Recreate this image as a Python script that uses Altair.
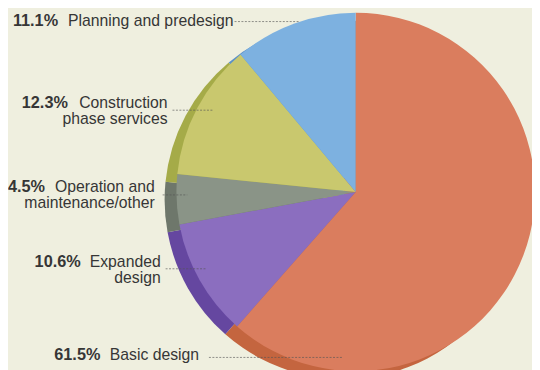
import altair as alt
import pandas as pd

# ---- data ----
categories = ["Basic design", "Expanded design", "Operation and maintenance/other",
              "Construction phase services", "Planning and predesign"]
shares = [61.5, 10.6, 4.5, 12.3, 11.1]
pct_labels = ["61.5%", "10.6%", "4.5%", "12.3%", "11.1%"]
label_line1 = ["Basic design", "Expanded", "Operation and", "Construction", "Planning and predesign"]
label_line2 = ["", "design", "maintenance/other", "phase services", ""]

# ---- styles ----
face_colors = ["#da7d5e", "#8b6ebf", "#8a9487", "#c9c86e", "#7db1e0"]
rim_colors = ["#c4653f", "#6547a0", "#6e776b", "#a5ab48", "#5b91c9"]
bg = "#efefdf"
txt = "#363636"

# ---- layout (chart pixel coords; page coords minus 8px margin) ----
OFF = 8
cx, cy, R = 361 - OFF, 192 - OFF, 182
rim_dx, rim_dy = -12, 8
pct_x = [55, 35, 8, 22, 13]
label_right = [202, 163, 157, 170, 237]
base1 = [363, 268, 192, 107, 24]
line_gap = 16
lead_x1 = [212, 168, 165, 175, 238]
lead_x2 = [347, 210, 190, 217, 303]
lead_y = [360, 270, 195, 109, 19]

pie_df = pd.DataFrame({"cat": categories, "share": shares, "idx": list(range(len(categories)))})

color_face = alt.Color("cat:N", scale=alt.Scale(domain=categories, range=face_colors), legend=None)
color_rim = alt.Color("cat:N", scale=alt.Scale(domain=categories, range=rim_colors), legend=None)

rim = alt.Chart(pie_df).mark_arc(radius=R, stroke=None).encode(
    theta=alt.Theta("share:Q", stack=True),
    order=alt.Order("idx:O"),
    color=color_rim,
    x=alt.value(cx + rim_dx), y=alt.value(cy + rim_dy),
)
face = alt.Chart(pie_df).mark_arc(radius=R, stroke=None).encode(
    theta=alt.Theta("share:Q", stack=True),
    order=alt.Order("idx:O"),
    color=color_face,
    x=alt.value(cx), y=alt.value(cy),
)
pie = alt.layer(rim, face).resolve_scale(color="independent", theta="independent")

pct_df = pd.DataFrame({"t": pct_labels, "x": [v - OFF for v in pct_x], "y": [v - OFF for v in base1]})
l1_df = pd.DataFrame({"t": label_line1, "x": [v - OFF for v in label_right], "y": [v - OFF for v in base1]})
l2_df = pd.DataFrame({"t": label_line2, "x": [v - OFF for v in label_right],
                      "y": [v - OFF + line_gap for v in base1]})
l2_df = l2_df[l2_df["t"] != ""]
lead_df = pd.DataFrame({"x1": [v - OFF for v in lead_x1], "x2": [v - OFF for v in lead_x2],
                        "y": [v - OFF for v in lead_y]})

def enc_xy():
    return dict(x=alt.X("x:Q", scale=None, axis=None), y=alt.Y("y:Q", scale=None, axis=None), text="t:N")

pct = alt.Chart(pct_df).mark_text(font="Liberation Sans", fontSize=16.5, fontWeight="bold",
                                  align="left", baseline="alphabetic", color=txt).encode(**enc_xy())
l1 = alt.Chart(l1_df).mark_text(font="Liberation Sans", fontSize=16,
                                align="right", baseline="alphabetic", color=txt).encode(**enc_xy())
l2 = alt.Chart(l2_df).mark_text(font="Liberation Sans", fontSize=16,
                                align="right", baseline="alphabetic", color=txt).encode(**enc_xy())
leaders = alt.Chart(lead_df).mark_rule(color="#555555", strokeDash=[2, 1.5], strokeWidth=0.8, opacity=0.8).encode(
    x=alt.X("x1:Q", scale=None, axis=None), x2="x2:Q", y=alt.Y("y:Q", scale=None, axis=None)
)

chart = alt.layer(pie, leaders, pct, l1, l2).properties(
    width=540 - OFF, height=370 - OFF, background=bg, padding=0,
    autosize=alt.AutoSizeParams(type="none"),
).configure_view(stroke=None)

chart.save("out.html", embed_options={"renderer": "svg", "actions": False})
